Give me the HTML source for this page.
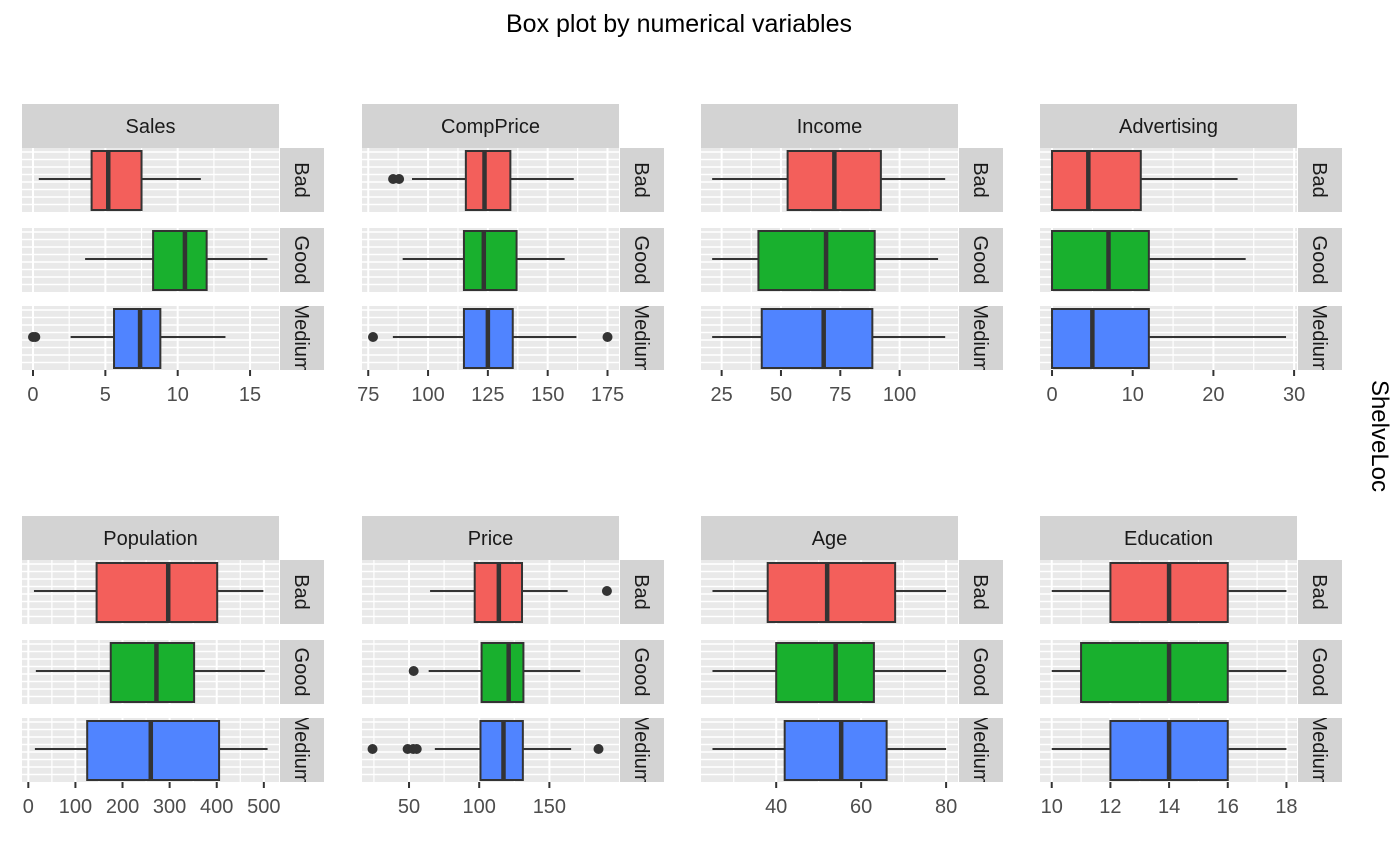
<!DOCTYPE html>
<html><head><meta charset="utf-8"><style>
html,body{margin:0;padding:0;background:#fff;}
svg{display:block;font-family:"Liberation Sans",Arial,sans-serif;}
</style></head><body>
<svg id="chart" width="1400" height="866" viewBox="0 0 1400 866" xmlns="http://www.w3.org/2000/svg">
<text x="679" y="32" font-size="25" text-anchor="middle" fill="#000">Box plot by numerical variables</text>
<text x="1372" y="436" font-size="24" text-anchor="middle" fill="#000" transform="rotate(90 1372 436)">ShelveLoc</text>
</svg>
<script>
const variables = ["Sales","CompPrice","Income","Advertising","Population","Price","Age","Education"];
const groups = ["Bad","Good","Medium"];
const groupColors = ["#F35F5B","#19B02E","#5084FF"];
const tickValues = [[0,5,10,15],[75,100,125,150,175],[25,50,75,100],[0,10,20,30],[0,100,200,300,400,500],[50,100,150],[40,60,80],[10,12,14,16,18]];
const axisLow  = [-0.76,72.4,16.3,-1.49,-13.4,16.5,22.3,9.6];
const axisHigh = [17.0,179.8,124.6,30.36,532.2,199.6,82.8,18.36];
// per variable: [Bad, Good, Medium]
const whiskerLow  = [[0.4,3.6,2.6],[93.3,89.4,85.3],[21,21,21],[0,0,0],[12,16,14],[65,64,68.4],[25,25,25],[10,10,10]];
const q1Values    = [[4.05,8.3,5.6],[115.8,115,115],[52.8,40.5,41.9],[0,0,0],[145,175,125],[96.8,101.7,100.9],[38,40,42],[12,11,12]];
const medianValues= [[5.2,10.5,7.4],[123.6,123.3,125],[72.5,69,68],[4.5,7,5],[297,272,260],[114,121,117.3],[52,54,55.3],[14,14,14]];
const q3Values    = [[7.5,12.0,8.8],[134.4,137,135.4],[92.1,89.5,88.5],[11,12,12],[401,352,405],[130.5,131.5,131.1],[68,63,66],[16,16,16]];
const whiskerHigh = [[11.6,16.2,13.3],[160.9,157.1,162],[119.2,116.2,119.2],[23,24,29],[499,502,508],[163,172,165.5],[80,80,80],[18,18,18]];
const outlierValues = [[[],[],[0,0.16]],[[85.4,87.9],[],[77,175]],[[],[],[]],[[],[],[]],[[],[],[]],[[191],[53.3],[24,49,53,55.5,185]],[[],[],[]],[[],[],[]]];

const NS = "http://www.w3.org/2000/svg";
const svg = document.getElementById("chart");
const colX = [22,362,701,1040];
const rowStripTop = [104,516];
const PW = 257, STRIPH = 44, SW = 44;
const rowOffsets = [0,80,158];
const RH = 64;
function mk(tag, attrs, parent){const e=document.createElementNS(NS,tag);for(const k in attrs)e.setAttribute(k,attrs[k]);(parent||svg).appendChild(e);return e;}

variables.forEach((v,vi)=>{
  const col = vi%4, row = Math.floor(vi/4);
  const x0 = colX[col], top = rowStripTop[row];
  const lo = axisLow[vi], hi = axisHigh[vi];
  const sx = val => x0 + (val-lo)/(hi-lo)*PW;
  const g = mk("g",{});
  
  
  const strip = mk("rect",{x:x0,y:top,width:PW,height:STRIPH,fill:"#D3D3D3"},g);
  
  
  const st = mk("text",{x:x0+PW/2,y:top+29,"font-size":20,"text-anchor":"middle",fill:"#1a1a1a"},g);
  st.textContent = v;
  
  
  const step = tickValues[vi][1]-tickValues[vi][0];
  const minors = [];
  tickValues[vi].forEach(t=>{minors.push(t-step/2);});
  minors.push(tickValues[vi][tickValues[vi].length-1]+step/2);
  groups.forEach((gr,gi)=>{
    const ry = top+STRIPH+rowOffsets[gi];
    const bg = mk("rect",{x:x0,y:ry,width:PW,height:RH,fill:"#E9E9E9"},g);
    
    
    for(let yy=ry+4; yy<ry+RH; yy+=7.5){mk("line",{x1:x0,x2:x0+PW,y1:yy,y2:yy,stroke:"#fff","stroke-width":1.6},g);}
    minors.forEach(m=>{if(m>lo&&m<hi){const xx=sx(m);mk("line",{x1:xx,x2:xx,y1:ry,y2:ry+RH,stroke:"#fff","stroke-width":1.2},g);}});
    tickValues[vi].forEach(t=>{const xx=sx(t);mk("line",{x1:xx,x2:xx,y1:ry,y2:ry+RH,stroke:"#fff","stroke-width":2},g);});
    const rs = mk("rect",{x:x0+PW+1,y:ry,width:SW,height:RH,fill:"#D3D3D3"},g);
    
    
    const cid = "clip"+vi+"_"+gi;
    const cp = mk("clipPath",{id:cid},g);
    mk("rect",{x:x0+PW+1,y:ry,width:SW,height:RH},cp);
    const cg = mk("g",{"clip-path":`url(#${cid})`},g);
    const cx = x0+PW+1+SW/2-7, cy = ry+RH/2;
    const rt = mk("text",{x:cx,y:cy,"font-size":20,"text-anchor":"middle",fill:"#1a1a1a",transform:`rotate(90 ${cx} ${cy})`},cg);
    rt.textContent = gr;
    
    
    const ym = ry+RH/2-1, by0 = ry+3, by1 = ry+RH-2;
    const w1 = mk("line",{x1:sx(whiskerLow[vi][gi]),x2:sx(q1Values[vi][gi]),y1:ym,y2:ym,stroke:"#333","stroke-width":2},g);
    
    
    const w2 = mk("line",{x1:sx(q3Values[vi][gi]),x2:sx(whiskerHigh[vi][gi]),y1:ym,y2:ym,stroke:"#333","stroke-width":2},g);
    
    
    const bx = mk("rect",{x:sx(q1Values[vi][gi]),y:by0,width:Math.max(0,sx(q3Values[vi][gi])-sx(q1Values[vi][gi])),height:by1-by0,fill:groupColors[gi],stroke:"#333","stroke-width":2},g);
    
    
    const md = mk("line",{x1:sx(medianValues[vi][gi]),x2:sx(medianValues[vi][gi]),y1:by0,y2:by1,stroke:"#333","stroke-width":4.5},g);
    
    
    outlierValues[vi][gi].forEach(o=>{
      const c = mk("circle",{cx:sx(o),cy:ym,r:5,fill:"#333"},g);
      
      
    });
  });
  const axBottom = top+STRIPH+rowOffsets[2]+RH;
  tickValues[vi].forEach(t=>{
    const xx = sx(t);
    mk("line",{x1:xx,x2:xx,y1:axBottom,y2:axBottom+6,stroke:"#333","stroke-width":2},g);
    const tl = mk("text",{x:xx,y:axBottom+31,"font-size":20,"text-anchor":"middle",fill:"#4d4d4d"},g);
    tl.textContent = t;
    
    
  });
});
</script>
</body></html>
